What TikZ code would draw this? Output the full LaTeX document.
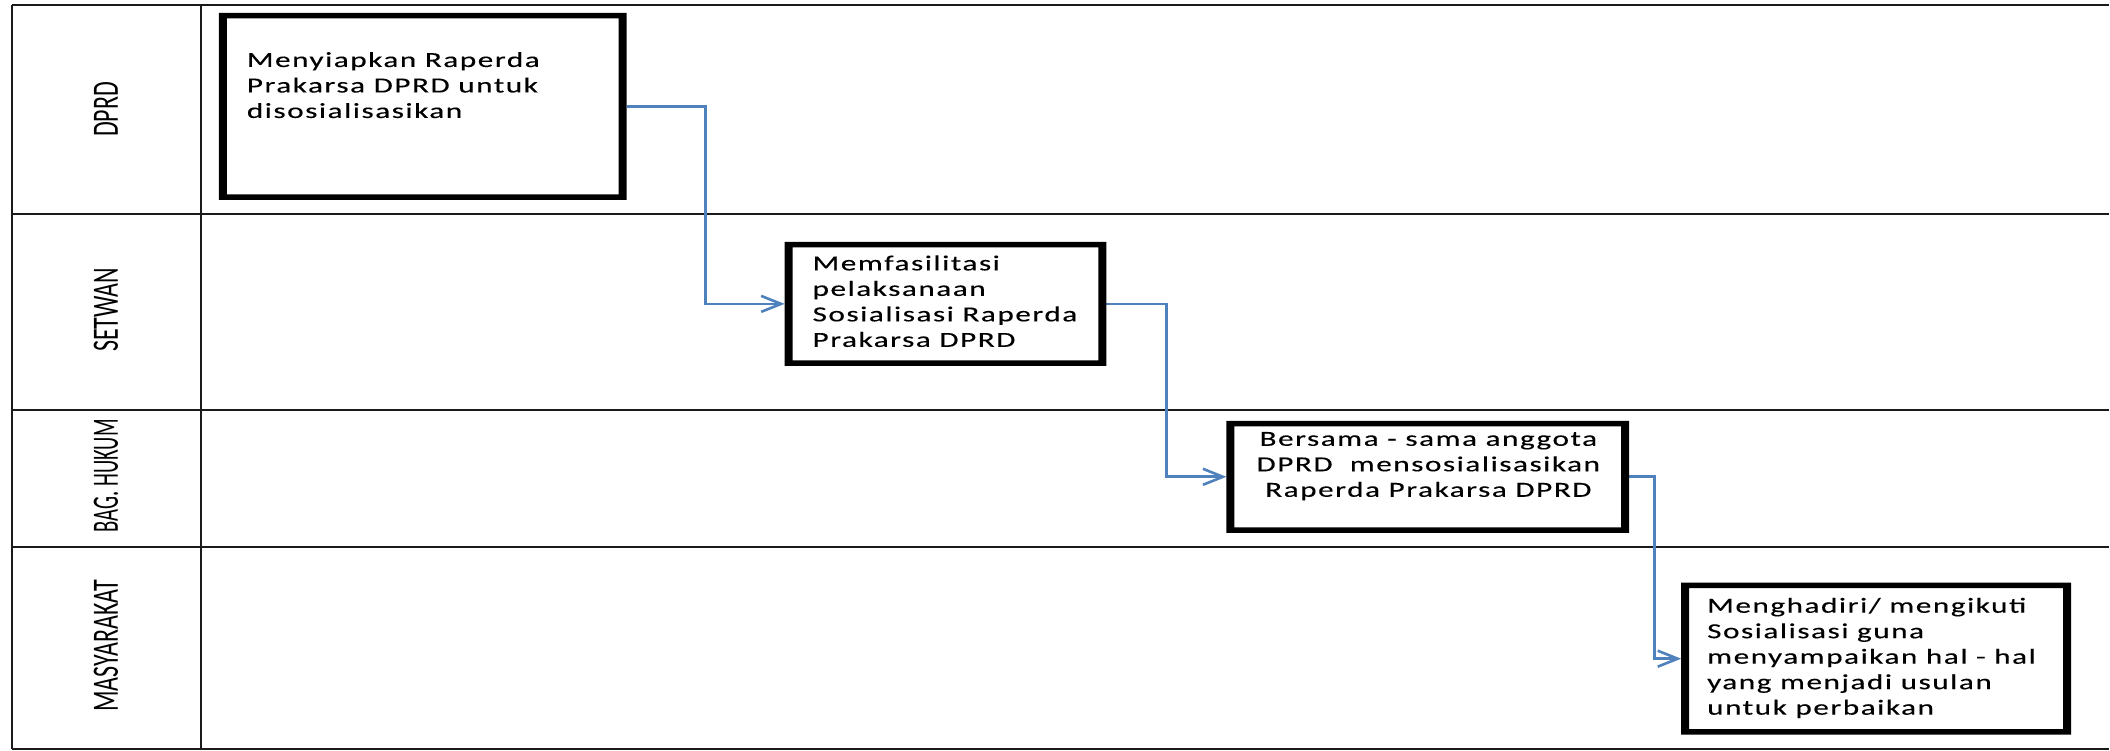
\documentclass[tikz,border=0pt]{standalone}
\usepackage{fontspec}
\usepackage{graphicx}
\setmainfont{Carlito}
\newfontfamily\boxfont[LetterSpace=5,FakeBold=0.2]{Carlito}
\usetikzlibrary{arrows.meta}
\definecolor{flowblue}{HTML}{4F81BD}
\definecolor{gridline}{HTML}{1A1A1A}
\newcommand{\boxtext}[2]{\scalebox{1.45}[1]{\boxfont\fontsize{10.75pt}{12.75pt}\selectfont\begin{tabular}[t]{@{}#1@{}}#2\end{tabular}}}
\newcommand{\lanetext}[2][1]{\scalebox{#1}[1.55]{\fontsize{12pt}{14pt}\selectfont #2}}
\begin{document}
\begin{tikzpicture}[x=0.5pt,y=-0.5pt,
  gridh/.style={draw=gridline,line width=1pt},
  gridv/.style={draw=gridline,line width=1.35pt},
  stepbox/.style={rectangle,inner sep=0pt,outer sep=0pt,draw=none},
  txt/.style={inner sep=0pt,outer sep=0pt,text=black},
  lane/.style={inner sep=0pt,rotate=90,text=black},
  flow/.style={draw=flowblue,line width=1.3pt,-{Straight Barb[length=10pt,width=8pt]}},
  frame/.style={fill=black,even odd rule}]
\fill[white] (0,0) rectangle (2110,751);
% swimlane grid
\foreach \yy in {5,214,410,547,749} \draw[gridh] (12,\yy) -- (2110,\yy);
\draw[gridv] (12,5) -- (12,749);
\draw[gridv] (201,5) -- (201,749);
% lane labels
\node[lane] (l1) at (106,109.5) {\lanetext{DPRD}};
\node[lane] (l2) at (106,310) {\lanetext{SETWAN}};
\node[lane] (l3) at (106,476) {\lanetext[0.86]{BAG. HUKUM}};
\node[lane] (l4) at (106,646) {\lanetext{MASYARAKAT}};
% boxes
\node[stepbox,minimum width=204pt,minimum height=93.5pt] (b1) at (423,106.5) {};
\node[stepbox,minimum width=161pt,minimum height=62pt] (b2) at (946,304) {};
\node[stepbox,minimum width=201.5pt,minimum height=56pt] (b3) at (1428.5,477) {};
\node[stepbox,minimum width=195pt,minimum height=76pt] (b4) at (1877,659) {};
% connectors
\draw[flow] (b1.east) -- ++(79,0) |- (b2.west);
\draw[flow] (b2.east) -- ++(60,0) |- (b3.west);
\draw[flow] (b3.east) -- ++(25,0) |- (b4.west);
% box frames
\foreach \b in {b1,b2,b3,b4}
  \fill[frame] (\b.north west) rectangle (\b.south east)
    ([xshift=4pt,yshift=-2.75pt]\b.north west) rectangle ([xshift=-4pt,yshift=2.75pt]\b.south east);
% texts
\node[txt,anchor=base west] (t1) at (247,67) {\boxtext{l}{Menyiapkan Raperda\\Prakarsa DPRD untuk\\disosialisasikan}};
\node[txt,anchor=base west] (t2) at (813,270.5) {\boxtext{l}{Memfasilitasi\\pelaksanaan\\Sosialisasi Raperda\\Prakarsa DPRD}};
\node[txt,anchor=base] (t3) at (1429,446) {\boxtext{c}{Bersama - sama anggota\\DPRD\ \ mensosialisasikan\\Raperda Prakarsa DPRD}};
\node[txt,anchor=base west] (t4) at (1708,613) {\boxtext{l}{Menghadiri/ mengikuti\\Sosialisasi guna\\menyampaikan hal - hal\\yang menjadi usulan\\untuk perbaikan}};
\end{tikzpicture}
\end{document}
